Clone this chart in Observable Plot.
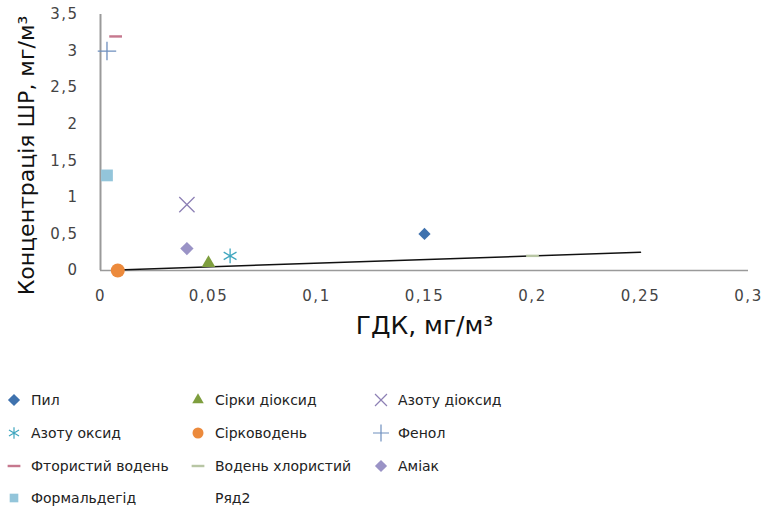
<!DOCTYPE html>
<html>
<head>
<meta charset="utf-8">
<script src="https://cdn.jsdelivr.net/npm/d3@7"></script>
<script src="https://cdn.jsdelivr.net/npm/@observablehq/plot@0.6"></script>
<style>
  body { margin: 0; background: #fff; font-family: "DejaVu Sans", sans-serif; }
  #wrap { position: relative; width: 767px; height: 510px; }
  #legend { position: absolute; left: 0; top: 350px; width: 767px; height: 160px; }
  .item { position: absolute; display: flex; align-items: center; font-size: 14px; color: #222; white-space: nowrap; }
  .item svg { margin-right: 9px; }
  #chart svg g[aria-label$="tick label"] text { letter-spacing: 1.5px; }
</style>
</head>
<body>
<div id="wrap">
  <div id="chart"></div>
  <div id="legend"></div>
</div>
<script>
// Substances: maximum permissible concentration (ГДК) vs measured concentration
const substances = ["Пил", "Сірки діоксид", "Азоту діоксид", "Азоту оксид", "Сірководень",
  "Фенол", "Фтористий водень", "Водень хлористий", "Аміак", "Формальдегід"];
const gdk  = [0.15, 0.05, 0.04, 0.06, 0.008, 0.003, 0.007, 0.2, 0.04, 0.003];
const conc = [0.5, 0.1, 0.9, 0.2, 0, 3, 3.2, 0.2, 0.3, 1.3];

// Ряд2: reference line
const lineName = "Ряд2";
const lineX = [0.008, 0.25];
const lineY = [0.008, 0.25];

const xTicks = [0, 0.05, 0.1, 0.15, 0.2, 0.25, 0.3];
const yTicks = [0, 0.5, 1, 1.5, 2, 2.5, 3, 3.5];

// short horizontal dash symbol
const dash = {draw(ctx, size) { const w = Math.sqrt(size) * 0.9, h = w * 0.38; ctx.rect(-w, -h / 2, 2 * w, h); }};

// marker styles, in the order of the substances
const styles = [
  {symbol: "diamond2", fill: "#3F72AE", r: 5.5},
  {symbol: "triangle2", fill: "#7E9E3E", r: 6.5},
  {symbol: "times", stroke: "#8D80B5", r: 7},
  {symbol: "asterisk", stroke: "#3FA6BF", r: 7},
  {symbol: "circle", fill: "#EC8A3C", r: 7},
  {symbol: "plus", stroke: "#6E8FBE", r: 6},
  {symbol: dash, fill: "#C6788E", r: 4},
  {symbol: dash, fill: "#B8C6A4", r: 4},
  {symbol: "diamond2", fill: "#9A93C6", r: 6},
  {symbol: "square2", fill: "#93C5DA", r: 7.5}
];

const comma = d => String(d).replace(".", ",");
const points = substances.map((name, i) => ({name, x: gdk[i], y: conc[i], i}));
const line = lineX.map((x, i) => ({x, y: lineY[i]}));

const tickStyle = {tickSize: 0, tickFormat: comma, fontSize: 15, fill: "#444", label: null};

const marks = [
  Plot.ruleY([0], {x1: 0, x2: 0.3, stroke: "#9a9a9a", strokeWidth: 1.5}),
  Plot.ruleX([0], {y1: 0, y2: 3.5, stroke: "#9a9a9a", strokeWidth: 2}),
  Plot.axisX(xTicks, {...tickStyle, tickPadding: 20, anchor: "bottom"}),
  Plot.axisY(yTicks, {...tickStyle, tickPadding: 22, anchor: "left"}),
  Plot.line(line, {x: "x", y: "y", stroke: "#111", strokeWidth: 1.5})
];
points.forEach(p => {
  const s = styles[p.i];
  marks.push(Plot.dot([p], {
    x: "x", y: "y", r: s.r, symbol: () => s.symbol,
    fill: s.fill || "none", stroke: s.stroke || "none", strokeWidth: 1.3
  }));
});
marks.push(
  Plot.text(["Концентрація ШР, мг/м³"], {frameAnchor: "left", textAnchor: "middle", rotate: -90,
    dx: -74, dy: 13, fontSize: 22, fill: "#111", fontFamily: "DejaVu Sans", text: d => d}),
  Plot.text(["ГДК, мг/м³"], {frameAnchor: "bottom", dy: 63, fontSize: 25, fill: "#111",
    fontFamily: "DejaVu Sans", text: d => d, x: 0.15})
);

const chart = Plot.plot({
  width: 767, height: 350,
  marginLeft: 100, marginRight: 19, marginTop: 14, marginBottom: 80,
  style: {fontFamily: "DejaVu Sans", background: "#fff", overflow: "visible"},
  x: {domain: [0, 0.3], label: null},
  y: {domain: [0, 3.5], label: null},
  symbol: {type: "identity"},
  marks
});
document.getElementById("chart").append(chart);

// legend below the chart: three columns
const legendNames = substances.concat([lineName]);
const colX = [6, 190, 373];
const rowY = [50, 83, 116, 148];
const symbolTypes = {diamond2: d3.symbolDiamond2, triangle2: d3.symbolTriangle2, times: d3.symbolTimes,
  asterisk: d3.symbolAsterisk, circle: d3.symbolCircle, plus: d3.symbolPlus, square2: d3.symbolSquare2};
const legend = d3.select("#legend");
legendNames.forEach((name, k) => {
  const item = legend.append("div").attr("class", "item")
    .style("left", colX[k % 3] + "px").style("top", (rowY[Math.floor(k / 3)] - 10) + "px")
    .style("height", "20px");
  const svg = item.append("svg").attr("width", 16).attr("height", 20);
  const s = styles[k];
  if (s) {
    const type = typeof s.symbol === "string" ? symbolTypes[s.symbol] : s.symbol;
    const rr = Math.min(s.r, 5.5);
    svg.append("path")
      .attr("transform", "translate(8,10)")
      .attr("d", d3.symbol(type, Math.PI * rr * rr)())
      .attr("fill", s.fill || "none").attr("stroke", s.stroke || "none").attr("stroke-width", 1.2);
  }
  item.append("span").text(name);
});
</script>
</body>
</html>
